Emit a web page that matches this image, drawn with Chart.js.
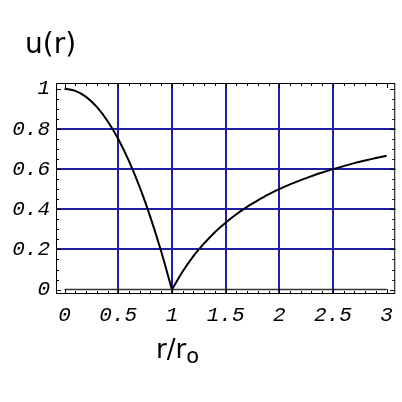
<!DOCTYPE html>
<html lang="en">
<head>
    <meta charset="UTF-8">
    <title>u(r)</title>
    <script src="https://cdn.jsdelivr.net/npm/chart.js@4.4.0/dist/chart.umd.min.js"></script>
    <style>
        body {
            margin: 0;
            background-color: #fff;
        }
        #wrap {
            position: relative;
            width: 402px;
            height: 402px;
        }
        canvas {
            position: absolute;
            left: 0;
            top: 0;
        }
        .lbl {
            position: absolute;
            font-family: "DejaVu Sans", sans-serif;
            color: #000;
            white-space: nowrap;
            line-height: 1;
        }
        #ylab {
            left: 25px;
            top: 30px;
            font-size: 28px;
        }
        #xlab {
            left: 156px;
            top: 336px;
            font-size: 26px;
        }
        #xlab sub {
            font-size: 21px;
            vertical-align: -5px;
        }
    </style>
</head>
<body>
    <div id="wrap">
        <canvas id="chart" width="402" height="402"></canvas>
        <div class="lbl" id="ylab">u(r)</div>
        <div class="lbl" id="xlab">r/r<sub>o</sub></div>
    </div>

    <script>
        // curve, split at the cusp r = 1
        const rInner = [0, 0.1, 0.2, 0.3, 0.4, 0.5, 0.6, 0.7, 0.8, 0.9, 1.0];
        const uInner = [1.00, 0.99, 0.96, 0.91, 0.84, 0.75, 0.64, 0.51, 0.36, 0.19, 0.00];

        const rOuter = [1.0, 1.1, 1.2, 1.3, 1.4, 1.5, 1.6, 1.7, 1.8, 1.9, 2.0,
                        2.1, 2.2, 2.3, 2.4, 2.5, 2.6, 2.7, 2.8, 2.9, 3.0];
        const uOuter = [0.00, 0.09, 0.167, 0.23, 0.286, 0.333, 0.375, 0.412, 0.444, 0.474, 0.50,
                        0.524, 0.545, 0.565, 0.583, 0.60, 0.615, 0.63, 0.643, 0.655, 0.667];

        // zero reference line
        const zeroX = [0, 3];
        const zeroY = [0, 0];

        const xTicks = [0, 0.5, 1, 1.5, 2, 2.5, 3];
        const yTicks = [0, 0.2, 0.4, 0.6, 0.8, 1];
        const xGrid = [0.5, 1, 1.5, 2, 2.5];
        const yGrid = [0.2, 0.4, 0.6, 0.8];

        const gridBlue = '#1f1fa6';
        const tickFont = { family: '"Liberation Mono", monospace', size: 21, style: 'italic' };

        const toPoints = (xs, ys) => xs.map((x, i) => ({ x: x, y: ys[i] }));

        // frame with small inward ticks, like the original plot
        const framePlugin = {
            id: 'frame',
            afterDraw(chart) {
                const { ctx, chartArea: a, scales } = chart;
                ctx.save();
                ctx.strokeStyle = '#000';
                ctx.lineWidth = 1;
                ctx.strokeRect(a.left + 0.5, a.top + 0.5, a.right - a.left - 1, a.bottom - a.top - 1);
                ctx.beginPath();
                for (let i = 0; i <= 30; i++) {
                    const x = Math.round(scales.x.getPixelForValue(i / 10)) + 0.5;
                    const len = i % 5 === 0 ? 5 : 3;
                    ctx.moveTo(x, a.bottom);
                    ctx.lineTo(x, a.bottom - len);
                    ctx.moveTo(x, a.top);
                    ctx.lineTo(x, a.top + len);
                }
                for (let i = 0; i <= 20; i++) {
                    const y = Math.round(scales.y.getPixelForValue(i / 20)) + 0.5;
                    const len = i % 4 === 0 ? 5 : 3;
                    ctx.moveTo(a.left, y);
                    ctx.lineTo(a.left + len, y);
                    ctx.moveTo(a.right, y);
                    ctx.lineTo(a.right - len, y);
                }
                ctx.stroke();
                ctx.restore();
            }
        };

        const curveStyle = {
            borderColor: '#000',
            borderWidth: 2,
            pointRadius: 0,
            cubicInterpolationMode: 'monotone'
        };

        new Chart(document.getElementById('chart'), {
            type: 'line',
            data: {
                datasets: [
                    {
                        data: toPoints(zeroX, zeroY),
                        borderColor: '#333',
                        borderWidth: 1.5,
                        pointRadius: 0
                    },
                    Object.assign({ data: toPoints(rInner, uInner) }, curveStyle),
                    Object.assign({ data: toPoints(rOuter, uOuter) }, curveStyle)
                ]
            },
            options: {
                responsive: false,
                animation: false,
                layout: { padding: { top: 83, right: 3, left: 0, bottom: 0 } },
                plugins: {
                    legend: { display: false },
                    tooltip: { enabled: false }
                },
                scales: {
                    x: {
                        type: 'linear',
                        min: -0.08,
                        max: 3.08,
                        afterFit: (s) => { s.height = 108; },
                        afterBuildTicks: (s) => { s.ticks = xTicks.map(v => ({ value: v })); },
                        border: { display: false },
                        grid: {
                            drawTicks: false,
                            lineWidth: 2,
                            color: (c) => xGrid.includes(c.tick && c.tick.value) ? gridBlue : 'rgba(0,0,0,0)'
                        },
                        ticks: {
                            color: '#000',
                            font: tickFont,
                            padding: 9,
                            maxRotation: 0,
                            autoSkip: false,
                            callback: (v) => String(v)
                        }
                    },
                    y: {
                        min: -0.022,
                        max: 1.029,
                        afterFit: (s) => { s.width = 56; },
                        afterBuildTicks: (s) => { s.ticks = yTicks.map(v => ({ value: v })); },
                        border: { display: false },
                        grid: {
                            drawTicks: false,
                            lineWidth: 2,
                            color: (c) => yGrid.includes(c.tick && c.tick.value) ? gridBlue : 'rgba(0,0,0,0)'
                        },
                        ticks: {
                            color: '#000',
                            font: tickFont,
                            padding: 6,
                            autoSkip: false,
                            callback: (v) => String(v)
                        }
                    }
                }
            },
            plugins: [framePlugin]
        });
    </script>
</body>
</html>
